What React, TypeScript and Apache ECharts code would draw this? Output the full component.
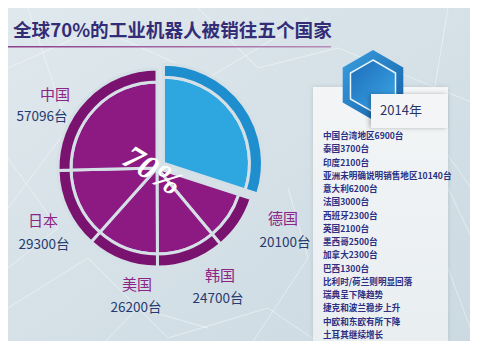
import React, { useEffect, useRef } from "react";
import * as echarts from "echarts";

const headline = "全球70%的工业机器人被销往五个国家";
const shareLabel = "70%";
const yearLabel = "2014年";
const unitSuffix = "台";
const countries = ["中国", "日本", "美国", "韩国", "德国"];
const units = [57096, 29300, 26200, 24700, 20100];
const otherName = "其他国家和地区";
const otherUnits = 67455;
const notes = [
  "中国台湾地区6900台",
  "泰国3700台",
  "印度2100台",
  "亚洲未明确说明销售地区10140台",
  "意大利6200台",
  "法国3000台",
  "西班牙2300台",
  "英国2100台",
  "墨西哥2500台",
  "加拿大2300台",
  "巴西1300台",
  "比利时/荷兰则明显回落",
  "瑞典呈下降趋势",
  "捷克和波兰稳步上升",
  "中欧和东欧有所下降",
  "土耳其继续增长",
];

// layout (not data)
const labelPos: Record<string, [number, number, number, number]> = {
  中国: [47, 85, 34, 107],
  日本: [35, 211, 36, 235],
  美国: [129, 275, 128, 298],
  韩国: [212, 266, 210, 289],
  德国: [275, 209, 277, 233],
};

const CJK = '"Noto Sans CJK SC", "Noto Sans", sans-serif';
const PURPLE = "#8C1A82";
const PURPLE_RIM = "#7A136F";
const BLUE = "#2EA6E0";
const BLUE_RIM = "#1E8ECE";
const GAP = "#D4DFE6";

function hexPoints(cx: number, cy: number, r: number): number[][] {
  const pts: number[][] = [];
  for (let i = 0; i < 6; i++) {
    const a = (Math.PI / 180) * (-90 + i * 60);
    pts.push([cx + r * Math.cos(a), cy + r * Math.sin(a)]);
  }
  return pts;
}

export default function App() {
  const ref = useRef<HTMLDivElement>(null);
  useEffect(() => {
    if (!ref.current) return;
    const chart = echarts.init(ref.current, undefined, { renderer: "svg" });

    const order = [...countries].reverse();
    const mkData = (main: boolean) => [
      {
        name: otherName,
        value: otherUnits,
        selected: true,
        itemStyle: { color: main ? BLUE : BLUE_RIM },
      },
      ...order.map((c) => ({
        name: c,
        value: units[countries.indexOf(c)],
        selected: false,
        itemStyle: { color: main ? PURPLE : PURPLE_RIM },
      })),
    ];

    const pieCommon = {
      type: "pie",
      center: [149, 160],
      startAngle: 90,
      clockwise: true,
      silent: true,
      selectedMode: "single",
      selectedOffset: 8,
      label: { show: false },
      labelLine: { show: false },
      emphasis: { disabled: true },
      itemStyle: { borderColor: GAP, borderWidth: 3 },
      z: 2,
    };

    const bgLines: number[][][] = [
      [[0, 60], [90, 20], [200, 70], [300, 10]],
      [[20, 0], [60, 120], [0, 200]],
      [[0, 300], [80, 250], [160, 330], [260, 300], [320, 341]],
      [[190, 0], [250, 60], [330, 40], [478, 100]],
      [[440, 0], [420, 120], [478, 200]],
      [[440, 180], [478, 260]],
      [[440, 260], [470, 341]],
      [[0, 150], [50, 220], [0, 260]],
      [[240, 341], [300, 250], [280, 180]],
      [[90, 341], [130, 300], [200, 320]],
    ];

    const graphic: any[] = [];
    bgLines.forEach((pts) =>
      graphic.push({
        type: "polyline",
        z: 0,
        silent: true,
        shape: { points: pts },
        style: { stroke: "rgba(255,255,255,0.55)", lineWidth: 0.8, fill: null },
      })
    );

    graphic.push({
      type: "text",
      z: 10,
      x: 5,
      y: 20,
      style: {
        text: headline,
        font: `bold 18.6px ${CJK}`,
        fill: "#332D78",
        align: "left",
        verticalAlign: "middle",
        textAlign: "left",
        textVerticalAlign: "middle",
      },
    });
    graphic.push({
      type: "rect",
      z: 10,
      shape: { x: 0, y: 38, width: 323, height: 1.6 },
      style: {
        fill: new echarts.graphic.LinearGradient(0, 0, 1, 0, [
          { offset: 0, color: "#8E3F8C" },
          { offset: 1, color: "#B88CB8" },
        ]),
      },
    });

    // card
    graphic.push({
      type: "rect",
      z: 5,
      shape: { x: 305, y: 79, width: 135, height: 254 },
      style: {
        fill: new echarts.graphic.LinearGradient(0, 0, 0, 1, [
          { offset: 0, color: "#F3F5F6" },
          { offset: 1, color: "#E9EEF1" },
        ]),
        shadowBlur: 4,
        shadowColor: "rgba(0,0,0,0.12)",
      },
    });
    graphic.push({
      type: "polygon",
      z: 6,
      shape: { points: hexPoints(365, 77, 35) },
      style: {
        fill: new echarts.graphic.LinearGradient(0, 0, 1, 1, [
          { offset: 0, color: "#3A9FE0" },
          { offset: 1, color: "#145FA6" },
        ]),
      },
    });
    graphic.push({
      type: "polygon",
      z: 7,
      shape: { points: hexPoints(365, 78, 26) },
      style: {
        fill: new echarts.graphic.LinearGradient(0, 0, 1, 1, [
          { offset: 0, color: "#1C6DB8" },
          { offset: 1, color: "#3DA7E8" },
        ]),
        stroke: "#E8F3FA",
        lineWidth: 1.5,
      },
    });
    graphic.push({
      type: "rect",
      z: 8,
      shape: { x: 363, y: 86, width: 77, height: 34 },
      style: {
        fill: "#F3F5F6",
        shadowBlur: 4,
        shadowOffsetX: -2,
        shadowColor: "rgba(0,0,0,0.25)",
      },
    });
    graphic.push({
      type: "text",
      z: 9,
      x: 393,
      y: 101,
      style: {
        text: yearLabel,
        font: `13px ${CJK}`,
        fill: "#2A3566",
        align: "center",
        verticalAlign: "middle",
        textAlign: "center",
        textVerticalAlign: "middle",
      },
    });
    notes.forEach((n, i) =>
      graphic.push({
        type: "text",
        z: 9,
        x: 315,
        y: 127 + i * 13.25,
        style: {
          text: n,
          font: `bold 8.6px ${CJK}`,
          fill: "#2C2F82",
          align: "left",
          verticalAlign: "middle",
          textAlign: "left",
          textVerticalAlign: "middle",
        },
      })
    );

    countries.forEach((c, i) => {
      const p = labelPos[c];
      graphic.push({
        type: "text",
        z: 10,
        x: p[0],
        y: p[1],
        style: {
          text: c,
          font: `15px ${CJK}`,
          fill: "#8C2486",
          align: "center",
          verticalAlign: "middle",
          textAlign: "center",
          textVerticalAlign: "middle",
        },
      });
      graphic.push({
        type: "text",
        z: 10,
        x: p[2],
        y: p[3],
        style: {
          text: `${units[i]}${unitSuffix}`,
          font: `13.5px ${CJK}`,
          fill: "#263A6E",
          align: "center",
          verticalAlign: "middle",
          textAlign: "center",
          textVerticalAlign: "middle",
        },
      });
    });

    graphic.push({
      type: "text",
      z: 20,
      x: 145,
      y: 162,
      rotation: -0.56,
      style: {
        text: shareLabel,
        font: `italic bold 34px "Liberation Serif", serif`,
        fill: "#FFFFFF",
        align: "center",
        verticalAlign: "middle",
        textAlign: "center",
        textVerticalAlign: "middle",
        shadowBlur: 3,
        shadowColor: "rgba(60,0,60,0.4)",
      },
    });

    chart.setOption({
      animation: false,
      backgroundColor: new echarts.graphic.LinearGradient(0, 0, 1, 1, [
        { offset: 0, color: "#DFE8ED" },
        { offset: 1, color: "#CBD9E1" },
      ]),
      series: [
        { ...pieCommon, radius: [0, 86], data: mkData(true) },
        { ...pieCommon, radius: [86, 99], data: mkData(false) },
      ],
      graphic,
    });
    return () => chart.dispose();
  }, []);
  return <div ref={ref} style={{ width: 478, height: 341 }} />;
}
